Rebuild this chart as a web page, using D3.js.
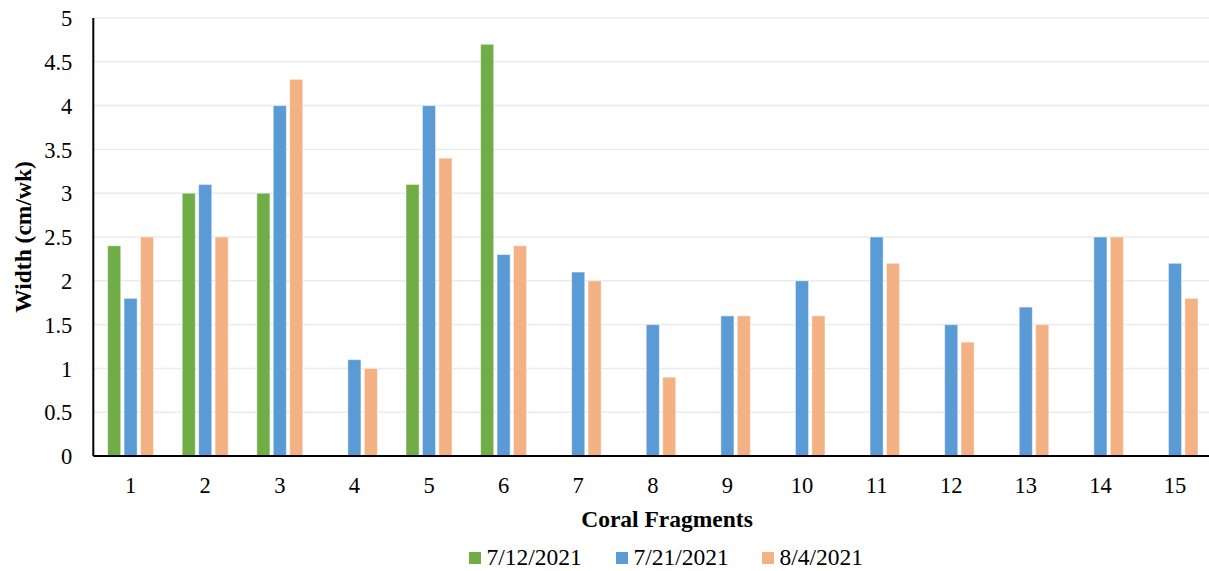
<!DOCTYPE html>
<html>
<head>
<meta charset="utf-8">
<script src="https://cdn.jsdelivr.net/npm/d3@7"></script>
<style>
  body { margin: 0; background: #fff; }
  svg text { font-family: 'Liberation Serif', 'Times New Roman', serif; }
</style>
</head>
<body>
<div id="svg-area"></div>
<script>
// Data
var fragments = ["1", "2", "3", "4", "5", "6", "7", "8", "9", "10", "11", "12", "13", "14", "15"];
var seriesNames = ["7/12/2021", "7/21/2021", "8/4/2021"];
var week1 = [2.4, 3.0, 3.0, null, 3.1, 4.7, null, null, null, null, null, null, null, null, null];
var week2 = [1.8, 3.1, 4.0, 1.1, 4.0, 2.3, 2.1, 1.5, 1.6, 2.0, 2.5, 1.5, 1.7, 2.5, 2.2];
var week3 = [2.5, 2.5, 4.3, 1.0, 3.4, 2.4, 2.0, 0.9, 1.6, 1.6, 2.2, 1.3, 1.5, 2.5, 1.8];
var yTicks = [0, 0.5, 1, 1.5, 2, 2.5, 3, 3.5, 4, 4.5, 5];
var colors = ["#70AD47", "#5B9BD5", "#F4B183"];

var svgWidth = 1209;
var svgHeight = 571;
var serif = "'Liberation Serif', 'Times New Roman', serif";

// plot area runs a little past the right edge of the picture, as in the original
var margin = { top: 18, right: 0, bottom: 115, left: 93.3 };
var chartWidth = 1119;
var chartHeight = svgHeight - margin.top - margin.bottom;

var svg = d3.select("#svg-area")
  .append("svg")
  .attr("width", svgWidth)
  .attr("height", svgHeight);

var chartGroup = svg.append("g")
  .attr("transform", `translate(${margin.left}, ${margin.top})`);

var xBandScale = d3.scaleBand()
  .domain(fragments)
  .range([0, chartWidth]);

// position of each series bar around the category centre
var xInner = d3.scaleBand()
  .domain(seriesNames)
  .range([-23, 23])
  .paddingInner(0.2);

var yLinearScale = d3.scaleLinear()
  .domain([0, 5])
  .range([chartHeight, 0]);

// gridlines
chartGroup.append("g")
  .selectAll("line")
  .data(yTicks.filter(d => d > 0))
  .enter()
  .append("line")
  .attr("x1", 0)
  .attr("x2", chartWidth)
  .attr("y1", d => yLinearScale(d))
  .attr("y2", d => yLinearScale(d))
  .attr("stroke", "#ebebeb")
  .attr("stroke-width", 1.5);

// bars
var allSeries = [week1, week2, week3];
var barData = [];
allSeries.forEach(function(values, s) {
  values.forEach(function(v, i) {
    if (v !== null) barData.push({ frag: fragments[i], series: seriesNames[s], value: v, color: colors[s] });
  });
});

chartGroup.append("g")
  .selectAll("rect")
  .data(barData)
  .enter()
  .append("rect")
  .attr("x", d => xBandScale(d.frag) + xBandScale.bandwidth() / 2 + xInner(d.series))
  .attr("y", d => yLinearScale(d.value))
  .attr("width", xInner.bandwidth())
  .attr("height", d => chartHeight - yLinearScale(d.value))
  .attr("fill", d => d.color)
  .attr("stroke", "#ffffff")
  .attr("stroke-opacity", 0.5)
  .attr("stroke-width", 1);

// axes
var bottomAxis = d3.axisBottom(xBandScale).tickSize(0).tickPadding(21);
var leftAxis = d3.axisLeft(yLinearScale).tickValues(yTicks).tickFormat(d3.format("~g")).tickSize(0).tickPadding(21);

var xAxisG = chartGroup.append("g")
  .attr("transform", `translate(0, ${chartHeight})`)
  .call(bottomAxis);

var yAxisG = chartGroup.append("g")
  .call(leftAxis);

[xAxisG, yAxisG].forEach(function(g) {
  g.attr("font-family", null);
  g.select(".domain").attr("stroke", "#000").attr("stroke-width", 2);
  g.selectAll("text")
    .style("font-family", serif)
    .attr("font-size", 22.5)
    .attr("fill", "#000");
});
xAxisG.select(".domain").attr("d", `M0,0H${chartWidth}`);
yAxisG.select(".domain").attr("d", `M0,${chartHeight}V0`);
yAxisG.selectAll("text").attr("dy", "0.34em");

// axis titles
svg.append("text")
  .attr("transform", `translate(31, ${margin.top + chartHeight / 2}) rotate(-90)`)
  .attr("text-anchor", "middle")
  .style("font-family", serif)
  .attr("font-size", 23.5)
  .attr("font-weight", "bold")
  .text("Width (cm/wk)");

svg.append("text")
  .attr("x", 667)
  .attr("y", 527)
  .attr("text-anchor", "middle")
  .style("font-family", serif)
  .attr("font-size", 23.5)
  .attr("font-weight", "bold")
  .text("Coral Fragments");

// legend
var legendX = [469, 616, 762];
var legend = svg.append("g")
  .selectAll("g")
  .data(seriesNames)
  .enter()
  .append("g")
  .attr("transform", (d, i) => `translate(${legendX[i]}, 552)`);

legend.append("rect")
  .attr("width", 12)
  .attr("height", 12)
  .attr("fill", (d, i) => colors[i]);

legend.append("text")
  .attr("x", 17.5)
  .attr("y", 13)
  .style("font-family", serif)
  .attr("font-size", 23.5)
  .text(d => d);
</script>
</body>
</html>
